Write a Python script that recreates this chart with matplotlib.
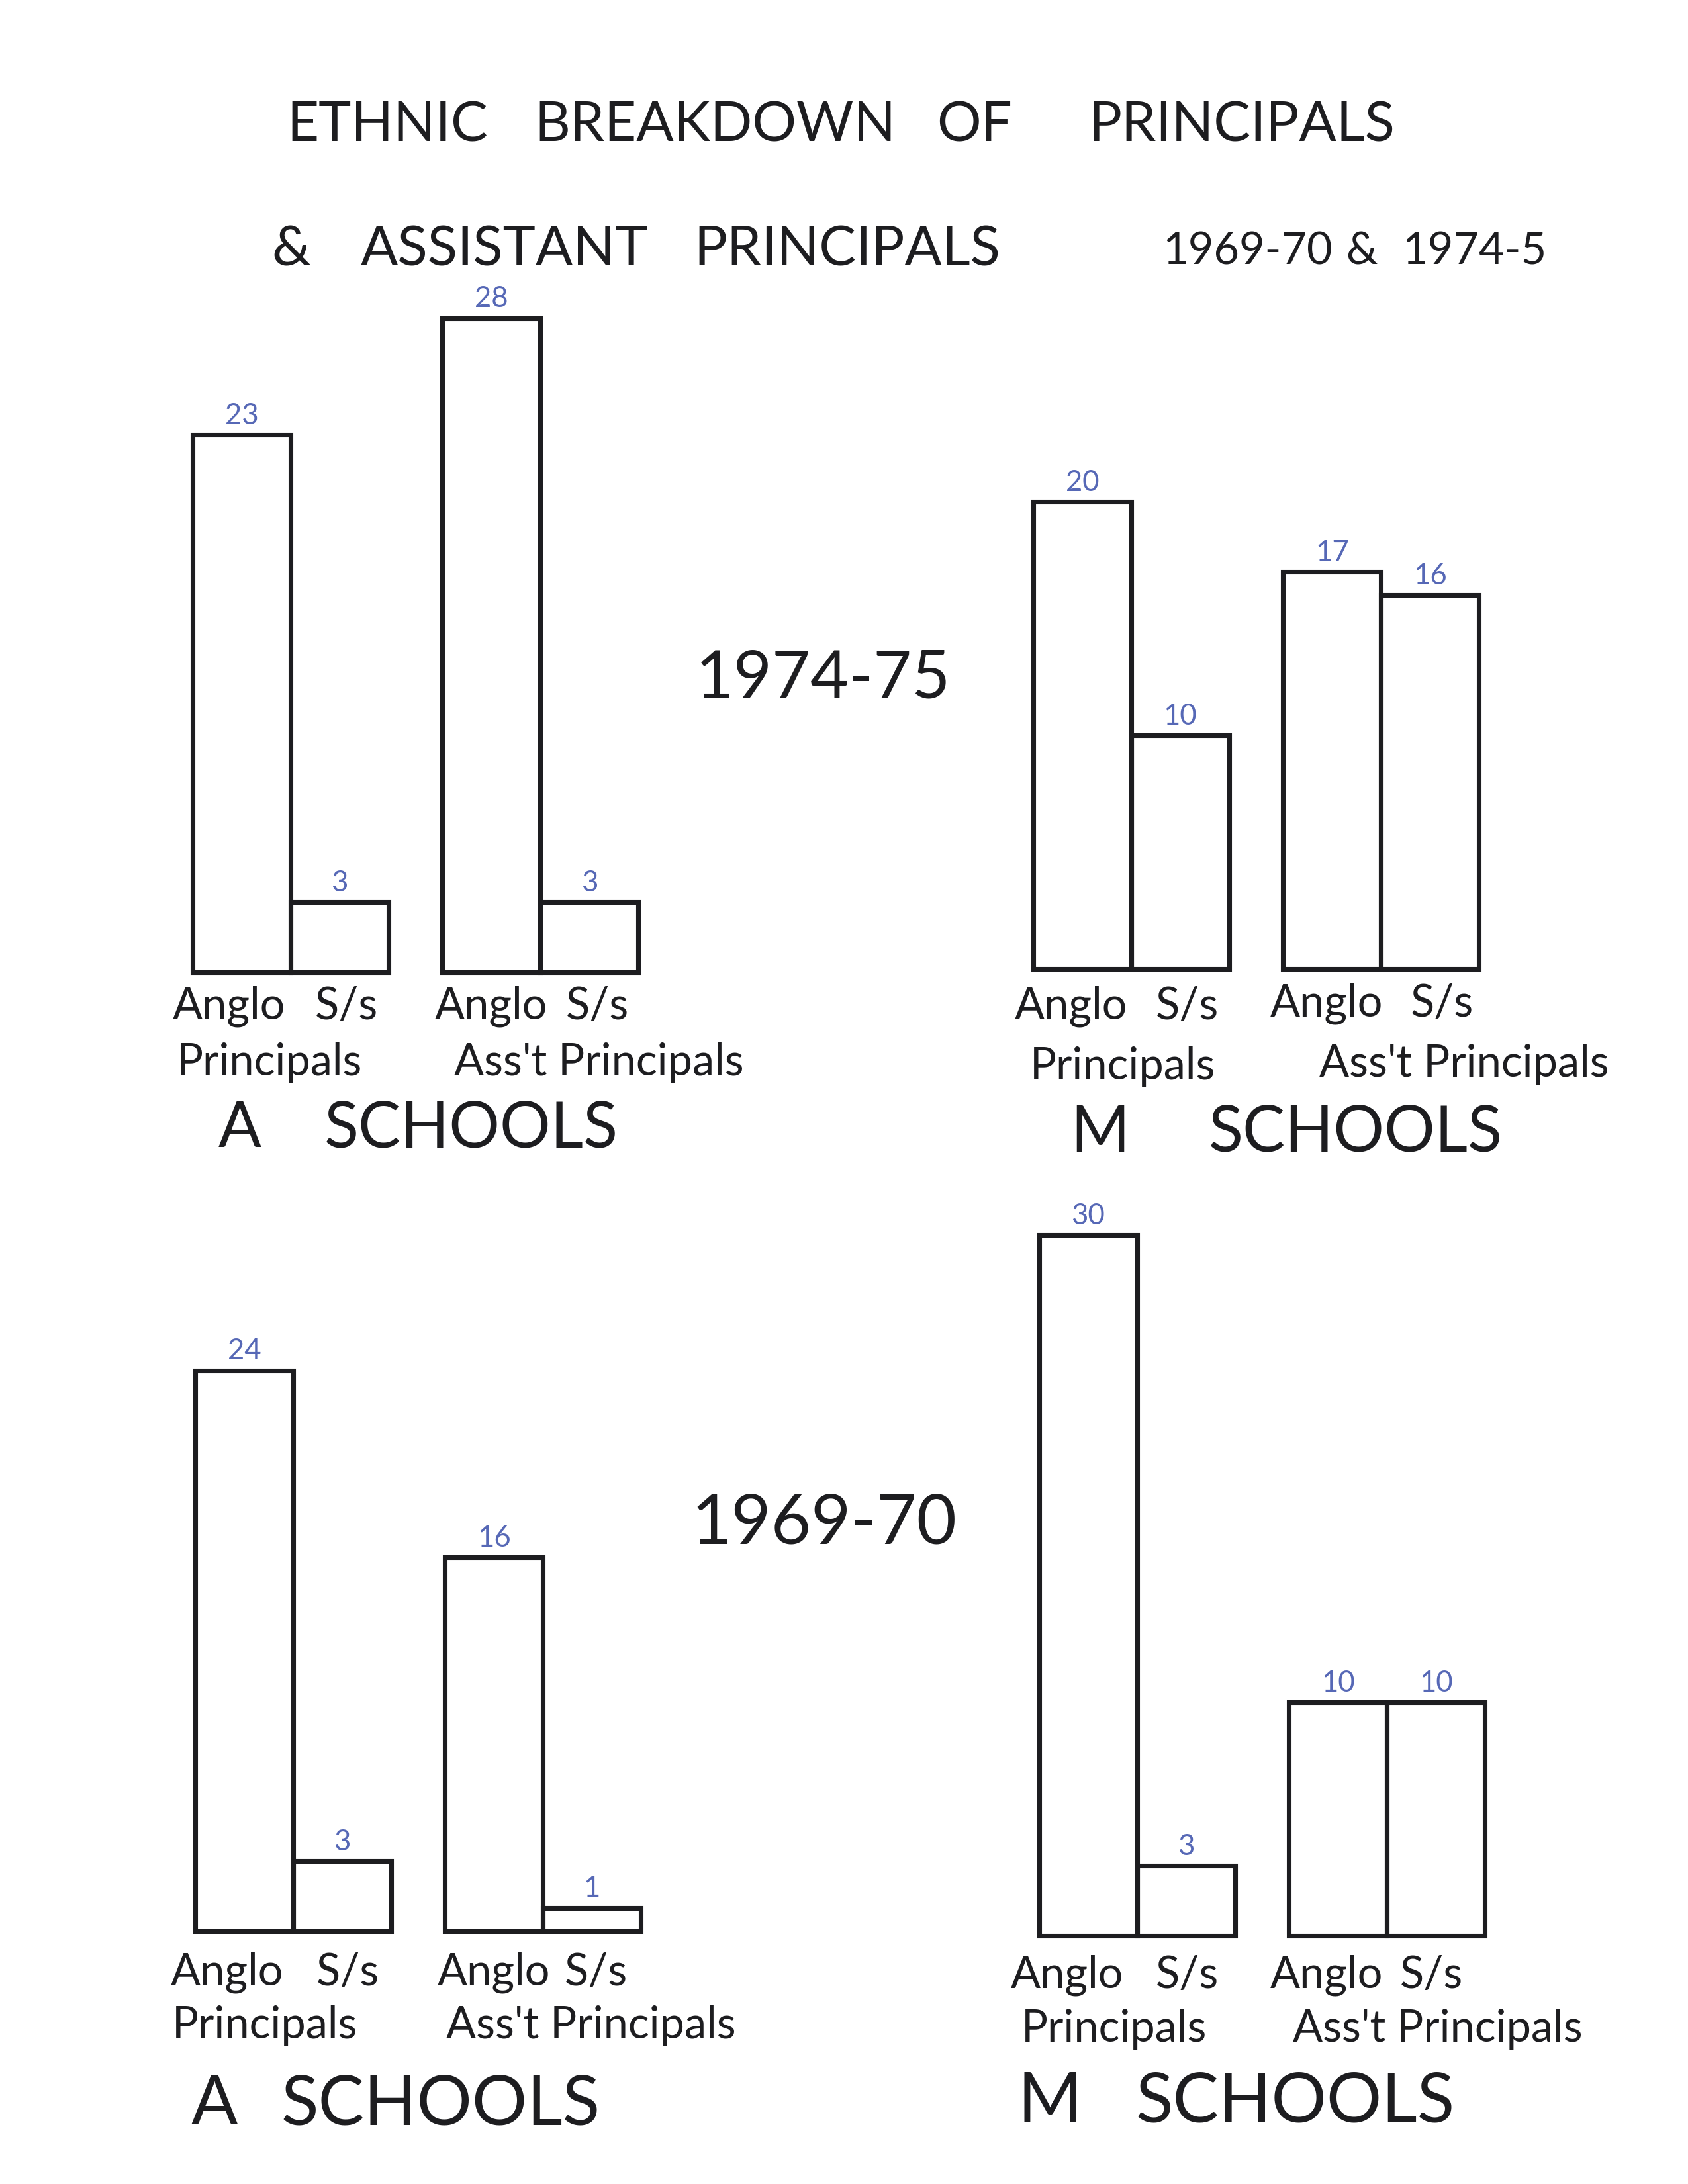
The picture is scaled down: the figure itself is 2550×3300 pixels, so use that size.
import matplotlib
matplotlib.use('Agg')
import matplotlib.pyplot as plt

# page size of the scanned sheet
W, H = 2550, 3300
DPI = 300

# data (Anglo, S/s for principals, then for assistant principals)
a_schools_1974 = [23, 3, 28, 3]
m_schools_1974 = [20, 10, 17, 16]
a_schools_1969 = [24, 3, 16, 1]
m_schools_1969 = [30, 3, 10, 10]

ethnic_labels = ['Anglo', 'S/s']
group_labels = ['Principals', "Ass't Principals"]
title_words = ['ETHNIC', 'BREAKDOWN', 'OF', 'PRINCIPALS']
subtitle_words = ['&', 'ASSISTANT', 'PRINCIPALS']
subtitle_years = ['1969-70', '&', '1974-5']

INK = '#1d1d20'
BLUE = '#5668b6'
FONT = ['Lato', 'DejaVu Sans']

PX_PER_UNIT = 35.3   # vertical pixels per principal
BAR_PX = 148         # width of one bar in pixels
YMAX = 32
XMAX = 4.6
bar_x = [0, 1, 2.55, 3.55]

fig = plt.figure(figsize=(W / DPI, H / DPI), dpi=DPI)
fig.patch.set_facecolor('white')


def put(x, y, s, size, color=INK):
    fig.text(x / W, 1 - y / H, s, fontsize=size, color=color,
             ha='center', va='center', family=FONT)


def panel(left_px, base_px, values):
    ax = fig.add_axes([left_px / W, 1 - base_px / H,
                       XMAX * BAR_PX / W, YMAX * PX_PER_UNIT / H])
    ax.set_xlim(0, XMAX)
    ax.set_ylim(0, YMAX)
    ax.axis('off')
    bars = ax.bar(bar_x, values, width=1.0, align='edge', facecolor='none',
                  edgecolor=INK, linewidth=1.7)
    for rect, v in zip(bars, values):
        rect.set_clip_on(False)
        ax.annotate(str(v), (rect.get_x() + 0.5, v), xytext=(0, 2),
                    textcoords='offset points', ha='center', va='bottom',
                    fontsize=10.5, color=BLUE, family=FONT, annotation_clip=False)
    return ax


# title
for x, w in zip([585, 1080, 1472, 1876], title_words):
    put(x, 190, w, 20)
for x, w in zip([440, 762, 1280], subtitle_words):
    put(x, 378, w, 20)
for x, w in zip([1885, 2057, 2228], subtitle_years):
    put(x, 380, w, 16)

# the four charts
panel(291, 1469, a_schools_1974)
panel(1561, 1464, m_schools_1974)
panel(295, 2918, a_schools_1969)
panel(1570, 2925, m_schools_1969)

put(1243, 1026, '1974-75', 24)
put(1245, 2303, '1969-70', 25)

LS = 16  # label size
# labels under the bars
# top A
put(346, 1521, ethnic_labels[0], LS); put(523, 1521, ethnic_labels[1], LS)
put(742, 1521, ethnic_labels[0], LS); put(902, 1521, ethnic_labels[1], LS)
put(407, 1606, group_labels[0], LS); put(905, 1606, group_labels[1], LS)
put(362, 1706, 'A', 23); put(712, 1706, 'SCHOOLS', 23)
# top M
put(1618, 1521, ethnic_labels[0], LS); put(1793, 1521, ethnic_labels[1], LS)
put(2004, 1517, ethnic_labels[0], LS); put(2178, 1517, ethnic_labels[1], LS)
put(1696, 1612, group_labels[0], LS); put(2212, 1608, group_labels[1], LS)
put(1662, 1713, 'M', 23); put(2048, 1713, 'SCHOOLS', 23)
# bottom A
put(343, 2981, ethnic_labels[0], LS); put(525, 2981, ethnic_labels[1], LS)
put(746, 2981, ethnic_labels[0], LS); put(900, 2981, ethnic_labels[1], LS)
put(400, 3061, group_labels[0], LS); put(893, 3061, group_labels[1], LS)
put(324, 3181, 'A', 25); put(666, 3181, 'SCHOOLS', 25)
# bottom M
put(1612, 2985, ethnic_labels[0], LS); put(1793, 2985, ethnic_labels[1], LS)
put(2004, 2985, ethnic_labels[0], LS); put(2162, 2985, ethnic_labels[1], LS)
put(1683, 3066, group_labels[0], LS); put(2172, 3066, group_labels[1], LS)
put(1586, 3177, 'M', 25); put(1957, 3177, 'SCHOOLS', 25)

fig.savefig('out.png', dpi=DPI, facecolor='white')
